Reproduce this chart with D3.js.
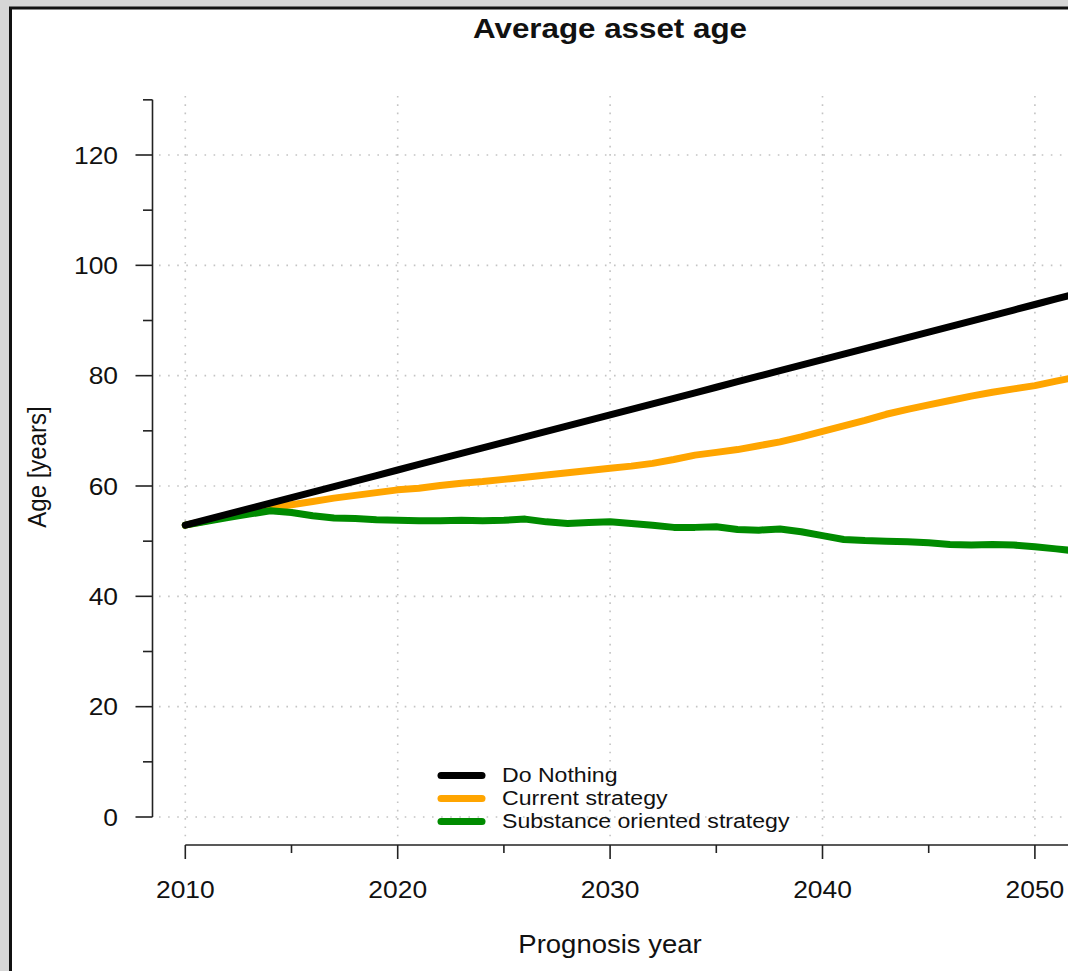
<!DOCTYPE html>
<html>
<head>
<meta charset="utf-8">
<script src="https://cdn.jsdelivr.net/npm/d3@7"></script>
<style>
  html, body { margin: 0; padding: 0; background: #d6d6d6; }
  svg { display: block; }
  text { font-family: "Liberation Sans", Arial, Helvetica, sans-serif; fill: #111; }
</style>
</head>
<body>
<svg id="chart" width="1068" height="971"></svg>
<script>
// ---------- data ----------
const years = d3.range(2010, 2053);
const doNothing = [52.9, 53.9, 54.9, 55.9, 56.9, 57.9, 58.9, 59.9, 60.9, 61.9,
  62.9, 63.9, 64.9, 65.9, 66.9, 67.9, 68.9, 69.9, 70.9, 71.9,
  72.9, 73.9, 74.9, 75.9, 76.9, 77.9, 78.9, 79.9, 80.9, 81.9,
  82.9, 83.9, 84.9, 85.9, 86.9, 87.9, 88.9, 89.9, 90.9, 91.9,
  92.9, 93.9, 94.9];
const currentStrategy = [52.9, 53.7, 54.5, 55.3, 56.0, 56.6, 57.2, 57.8, 58.3, 58.8,
  59.3, 59.6, 60.1, 60.5, 60.8, 61.2, 61.6, 62.0, 62.4, 62.8,
  63.2, 63.6, 64.1, 64.8, 65.6, 66.1, 66.6, 67.3, 68.0, 68.9,
  69.9, 70.9, 71.9, 73.0, 73.9, 74.7, 75.5, 76.3, 77.0, 77.6,
  78.2, 79.0, 79.8];
const substanceStrategy = [52.9, 53.6, 54.3, 54.9, 55.5, 55.2, 54.6, 54.2, 54.1, 53.9,
  53.8, 53.7, 53.7, 53.8, 53.7, 53.8, 54.0, 53.5, 53.2, 53.4,
  53.5, 53.2, 52.9, 52.5, 52.5, 52.6, 52.1, 52.0, 52.2, 51.7,
  51.0, 50.3, 50.1, 50.0, 49.9, 49.7, 49.4, 49.3, 49.4, 49.3,
  49.0, 48.6, 48.2];
const seriesNames = ["Do Nothing", "Current strategy", "Substance oriented strategy"];
const seriesColors = ["#000000", "#FFA500", "#008B00"];
const xTicks = [2010, 2020, 2030, 2040, 2050];
const xMinorTicks = [2015, 2025, 2035, 2045, 2055];
const yTicks = [0, 20, 40, 60, 80, 100, 120];
const yMinorTicks = [10, 30, 50, 70, 90, 110, 130];
const titleText = "Average asset age";
const xTitle = "Prognosis year";
const yTitle = "Age [years]";

// ---------- layout ----------
const svg = d3.select("#chart");
const SX = 1.1; // horizontal text stretch seen in the reference
const x = d3.scaleLinear().domain([2010, 2050]).range([185.3, 1034.9]);
const y = d3.scaleLinear().domain([0, 120]).range([817, 155]);

// panel
svg.append("rect").attr("x", 0).attr("y", 0).attr("width", 1068).attr("height", 971).attr("fill", "#d6d6d6");
svg.append("rect").attr("x", 10.5).attr("y", 8).attr("width", 1200).attr("height", 1200)
  .attr("fill", "#ffffff").attr("stroke", "#111").attr("stroke-width", 3);

// grid
const grid = svg.append("g").attr("stroke", "#c4c4c4").attr("stroke-width", 1.6).attr("fill", "none");
grid.selectAll("line.v").data(xTicks).join("line")
  .attr("x1", d => x(d)).attr("x2", d => x(d)).attr("y1", 96).attr("y2", 838)
  .attr("stroke-dasharray", "1.6,6.7");
grid.selectAll("line.h").data(yTicks).join("line")
  .attr("x1", 159).attr("x2", 1068).attr("y1", d => y(d)).attr("y2", d => y(d))
  .attr("stroke-dasharray", "1.6,7.5");

// axes (custom R-style, built from scales)
const axisColor = "#222";
const yAxisX = 152.5;
const yAx = svg.append("g").attr("stroke", axisColor).attr("stroke-width", 1.6);
yAx.append("line").attr("x1", yAxisX).attr("x2", yAxisX).attr("y1", y(130)).attr("y2", y(0));
yAx.selectAll("line.maj").data(yTicks).join("line")
  .attr("x1", yAxisX - 17).attr("x2", yAxisX).attr("y1", d => y(d)).attr("y2", d => y(d));
yAx.selectAll("line.min").data(yMinorTicks).join("line")
  .attr("x1", yAxisX - 9.5).attr("x2", yAxisX).attr("y1", d => y(d)).attr("y2", d => y(d));
svg.append("g").selectAll("text").data(yTicks).join("text")
  .attr("transform", d => `translate(118,${y(d) + 8.8}) scale(${SX},1)`)
  .attr("text-anchor", "end").attr("font-size", 24).text(d => d);

const xAxisY = 845;
const xAx = svg.append("g").attr("stroke", axisColor).attr("stroke-width", 1.6);
xAx.append("line").attr("x1", x(2010)).attr("x2", x(2055)).attr("y1", xAxisY).attr("y2", xAxisY);
xAx.selectAll("line.maj").data(xTicks).join("line")
  .attr("x1", d => x(d)).attr("x2", d => x(d)).attr("y1", xAxisY).attr("y2", xAxisY + 14);
xAx.selectAll("line.min").data(xMinorTicks).join("line")
  .attr("x1", d => x(d)).attr("x2", d => x(d)).attr("y1", xAxisY).attr("y2", xAxisY + 8);
svg.append("g").selectAll("text").data(xTicks).join("text")
  .attr("transform", d => `translate(${x(d)},898) scale(${SX},1)`)
  .attr("text-anchor", "middle").attr("font-size", 24).text(d => d);

// titles
svg.append("text").attr("transform", `translate(610,38) scale(${SX},1)`)
  .attr("text-anchor", "middle").attr("font-size", 28.5).attr("font-weight", "bold").text(titleText);
svg.append("text").attr("transform", `translate(610,953) scale(${SX},1)`)
  .attr("text-anchor", "middle").attr("font-size", 25).text(xTitle);
svg.append("text").attr("transform", `translate(46,467) scale(${SX},1) rotate(-90)`)
  .attr("text-anchor", "middle").attr("font-size", 24).text(yTitle);

// lines
const seriesData = [doNothing, currentStrategy, substanceStrategy];
const line = d3.line().x((d, i) => x(years[i])).y(d => y(d));
const drawOrder = [1, 2, 0];
svg.append("g").selectAll("path").data(drawOrder).join("path")
  .attr("d", k => line(seriesData[k]))
  .attr("fill", "none").attr("stroke", k => seriesColors[k])
  .attr("stroke-width", 7).attr("stroke-linecap", "round").attr("stroke-linejoin", "round");

// legend
const legendRows = [782, 805, 828];
const lg = svg.append("g");
lg.selectAll("line").data(seriesNames).join("line")
  .attr("x1", 441).attr("x2", 482)
  .attr("y1", (d, i) => legendRows[i] - 6.5).attr("y2", (d, i) => legendRows[i] - 6.5)
  .attr("stroke", (d, i) => seriesColors[i]).attr("stroke-width", 7).attr("stroke-linecap", "round");
lg.selectAll("text").data(seriesNames).join("text")
  .attr("transform", (d, i) => `translate(502,${legendRows[i]}) scale(${SX},1)`)
  .attr("font-size", 21).text(d => d);
</script>
</body>
</html>
